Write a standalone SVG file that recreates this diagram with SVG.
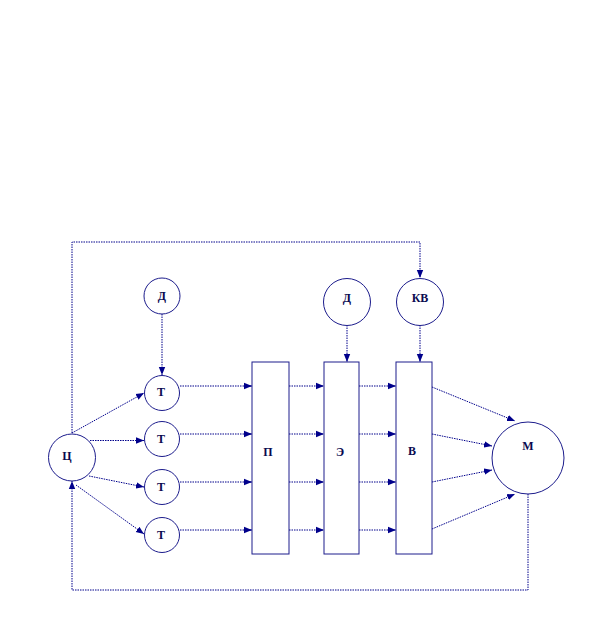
<svg xmlns="http://www.w3.org/2000/svg" width="600" height="638" viewBox="0 0 600 638">
<style>
.n{fill:#fff;stroke:#1c1c8c;stroke-width:1}
.c{fill:none;stroke:#00008b;stroke-width:1;stroke-dasharray:1.5 1}
.t{font-family:"Liberation Serif",serif;font-weight:bold;font-size:12px;fill:#0a0a50;text-anchor:middle;dominant-baseline:central}
</style>
<defs>
<marker id="a" viewBox="0 0 10 10" refX="10" refY="5" markerWidth="8" markerHeight="8" markerUnits="userSpaceOnUse" orient="auto">
<path d="M0,1 L10,5 L0,9 Z" fill="#00008b"/>
</marker>
</defs>
<rect width="600" height="638" fill="#fff"/>
<g id="connectors">
<path class="c" d="M72,433 V242 H420 V278" marker-end="url(#a)"/>
<path class="c" d="M528,494 V590 H72 V481" marker-end="url(#a)"/>
<path class="c" d="M162,314 V375" marker-end="url(#a)"/>
<path class="c" d="M347,325 V362" marker-end="url(#a)"/>
<path class="c" d="M420,325 V362" marker-end="url(#a)"/>
<path class="c" d="M72,433 L144,393" marker-end="url(#a)"/>
<path class="c" d="M90,440.5 L144,440.5" marker-end="url(#a)"/>
<path class="c" d="M89,476 L144,487" marker-end="url(#a)"/>
<path class="c" d="M76,485 L144,534" marker-end="url(#a)"/>
<path class="c" d="M180,386 H252 M180,434 H252 M180,482 H252 M180,530 H252"/>
<path class="c" d="M244,386 H252" marker-end="url(#a)"/>
<path class="c" d="M244,434 H252" marker-end="url(#a)"/>
<path class="c" d="M244,482 H252" marker-end="url(#a)"/>
<path class="c" d="M244,530 H252" marker-end="url(#a)"/>
<path class="c" d="M289,386 H324" marker-end="url(#a)"/>
<path class="c" d="M289,434 H324" marker-end="url(#a)"/>
<path class="c" d="M289,482 H324" marker-end="url(#a)"/>
<path class="c" d="M289,530 H324" marker-end="url(#a)"/>
<path class="c" d="M359,386 H396" marker-end="url(#a)"/>
<path class="c" d="M359,434 H396" marker-end="url(#a)"/>
<path class="c" d="M359,482 H396" marker-end="url(#a)"/>
<path class="c" d="M359,530 H396" marker-end="url(#a)"/>
<path class="c" d="M432,387 L515,421" marker-end="url(#a)"/>
<path class="c" d="M432,434 L492,446" marker-end="url(#a)"/>
<path class="c" d="M432,482 L492,470" marker-end="url(#a)"/>
<path class="c" d="M432,529 L515,494" marker-end="url(#a)"/>
</g>
<g id="D1"><circle class="n" cx="162" cy="296" r="18"/><text class="t" x="162" y="296">Д</text></g>
<g id="D2"><circle class="n" cx="347" cy="302" r="23.5"/><text class="t" x="347" y="298">Д</text></g>
<g id="KV"><circle class="n" cx="420" cy="302" r="23.5"/><text class="t" x="420" y="298">КВ</text></g>
<g id="T1"><circle class="n" cx="162" cy="393" r="17.5"/><text class="t" x="161" y="392">Т</text></g>
<g id="T2"><circle class="n" cx="162" cy="439" r="17.5"/><text class="t" x="161" y="439">Т</text></g>
<g id="T3"><circle class="n" cx="162" cy="487" r="17.5"/><text class="t" x="161" y="487">Т</text></g>
<g id="T4"><circle class="n" cx="162" cy="535" r="17.5"/><text class="t" x="161" y="535">Т</text></g>
<g id="C"><circle class="n" cx="72" cy="457.5" r="23.5"/><text class="t" x="67" y="456">Ц</text></g>
<g id="P"><rect class="n" x="252" y="362" width="37" height="192"/><text class="t" x="268" y="452">П</text></g>
<g id="E"><rect class="n" x="324" y="362" width="35" height="192"/><text class="t" x="340" y="452">Э</text></g>
<g id="V"><rect class="n" x="396" y="362" width="36" height="192"/><text class="t" x="412" y="451">В</text></g>
<g id="M"><circle class="n" cx="528" cy="458" r="36"/><text class="t" x="528" y="446">М</text></g>
</svg>
